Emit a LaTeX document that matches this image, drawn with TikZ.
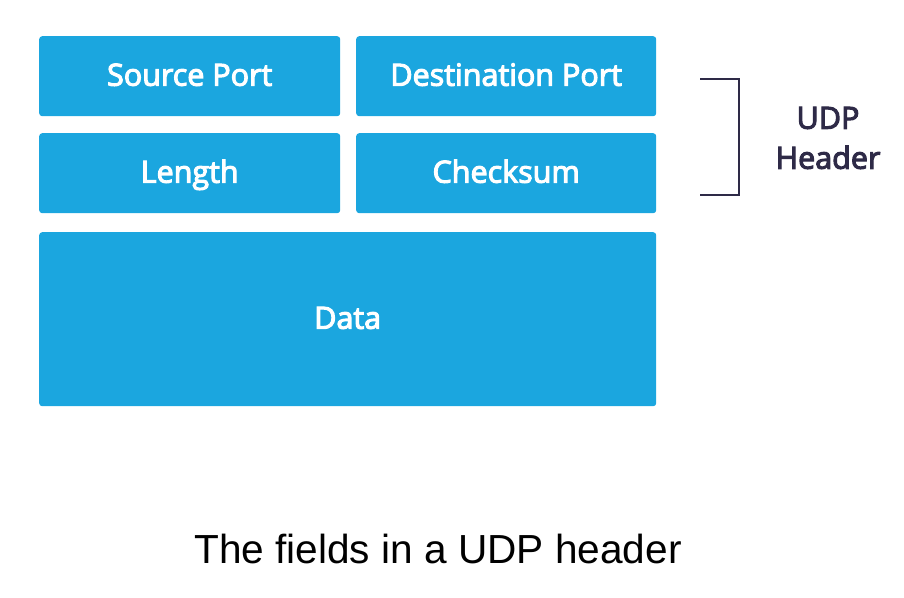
\documentclass[tikz,border=0pt]{standalone}
\usepackage{fontspec}
\setmainfont{Open Sans}
\newfontfamily\semib{Open Sans}[FakeBold=3.5]
\newfontfamily\capfont{Liberation Sans}
\definecolor{fieldblue}{HTML}{1BA6DF}
\definecolor{brk}{HTML}{2E2A47}
\begin{document}
\begin{tikzpicture}[x=1pt,y=-1pt,
  field/.style={fill=fieldblue, draw=none, rounded corners=3pt, inner sep=0pt,
    font=\semib\fontsize{30.5}{32}\selectfont, text=white, anchor=north west,
    text height=19pt, text depth=0pt},
  bracketline/.style={draw=brk, line width=2.2pt},
  lbl/.style={font=\semib\fontsize{30.5}{40}\selectfont, text=brk, align=center}]
\useasboundingbox (0,0) rectangle (904,597);
\node[field, minimum width=301pt, minimum height=80pt] (src) at (39,36) {Source Port};
\node[field, minimum width=300pt, minimum height=80pt] (dst) at (356,36) {Destination Port};
\node[field, minimum width=301pt, minimum height=80pt] (len) at (39,133) {Length};
\node[field, minimum width=300pt, minimum height=80pt] (chk) at (356,133) {Checksum};
\node[field, minimum width=617pt, minimum height=174pt] (data) at (39,232) {Data};
\coordinate (bt) at (700,79);
\coordinate (bb) at (700,195);
\draw[bracketline] (bt) -- (739,79) -- (739,195) -- (bb);
\node[lbl] (hdr) at (828,138) {UDP\\Header};
\node[font=\capfont\fontsize{40.6}{44}\selectfont] (cap) at (438,549) {The fields in a UDP header};
\end{tikzpicture}
\end{document}
